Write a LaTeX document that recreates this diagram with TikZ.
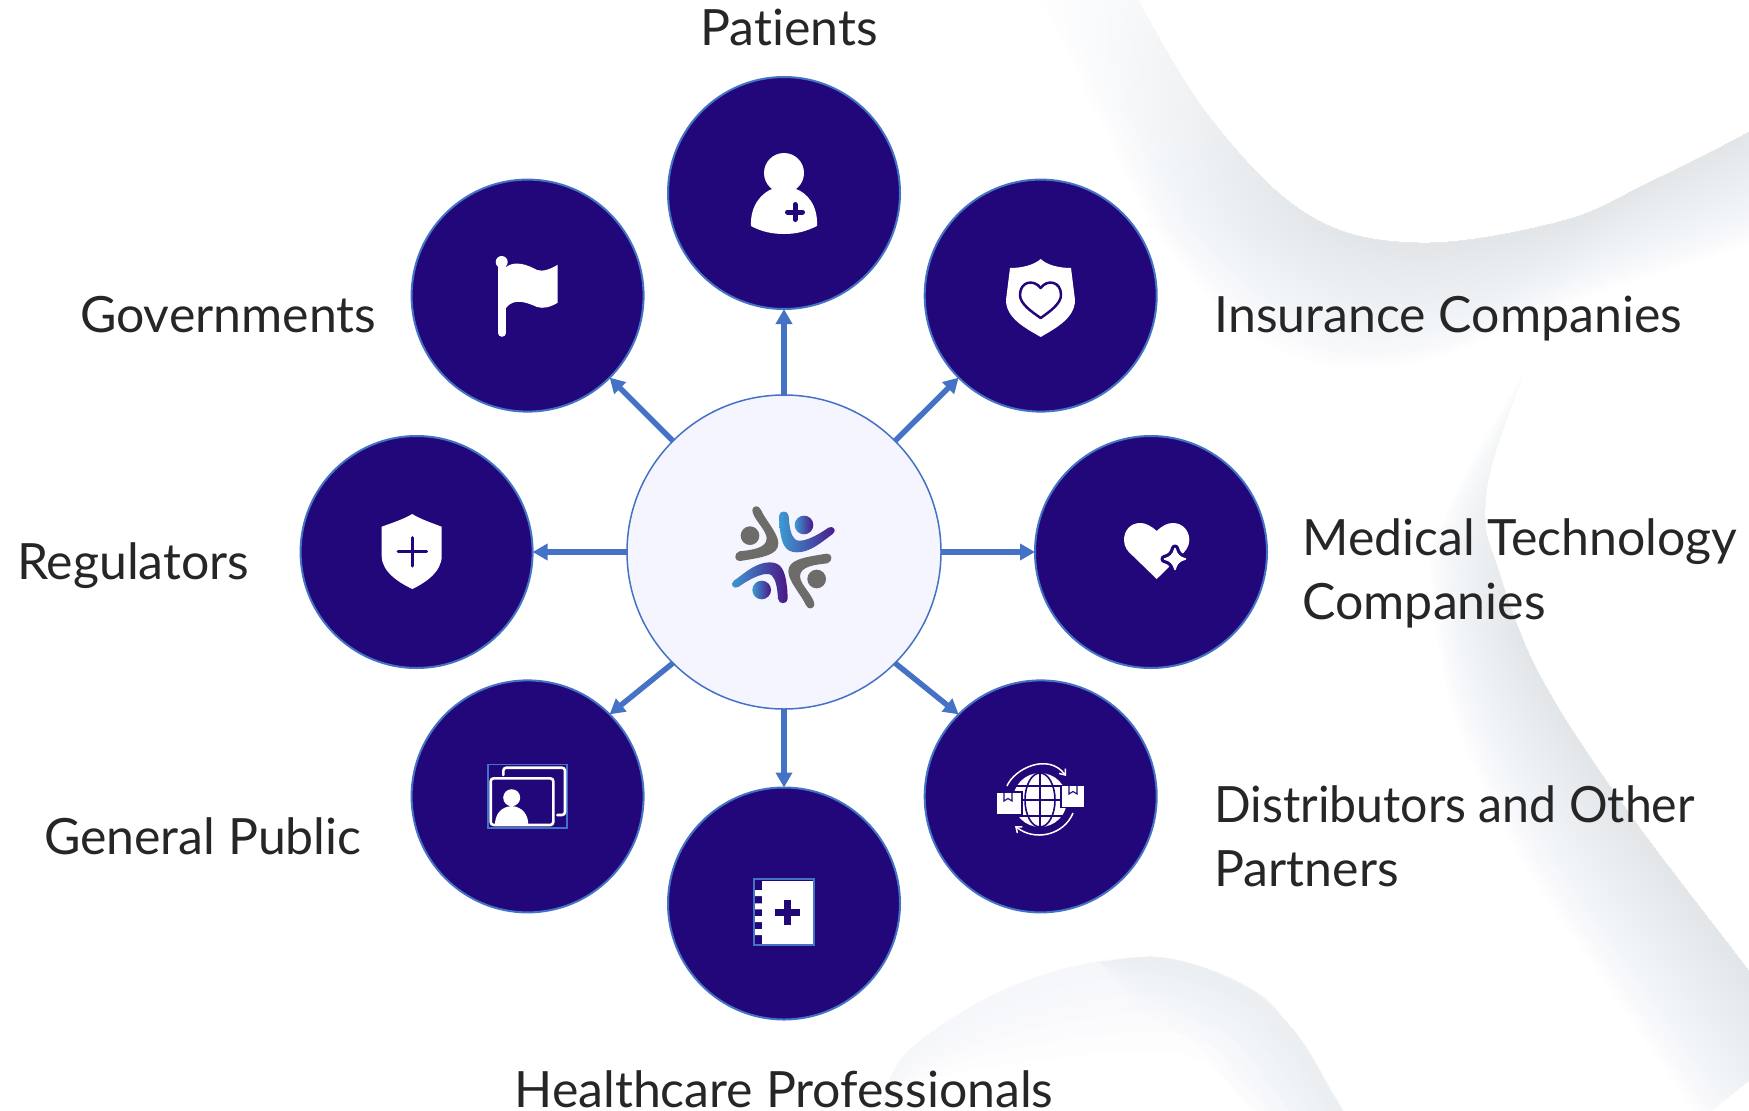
\documentclass[tikz,border=0pt]{standalone}
\usepackage{fontspec}
\setmainfont{Lato}[Ligatures=CommonOff]
\newfontfamily\narrowlato{Lato}[Ligatures=CommonOff,FakeStretch=0.965]
\usetikzlibrary{arrows.meta,calc,fadings}
\definecolor{navy}{HTML}{22077A}
\definecolor{edgeblue}{HTML}{4472C4}
\definecolor{hub}{HTML}{F4F5FE}
\definecolor{ink}{HTML}{262626}
\definecolor{logogray}{HTML}{6E6C68}
\definecolor{logoblue}{HTML}{3D9BD3}
\definecolor{logopurple}{HTML}{4B1686}
\definecolor{swoosh}{HTML}{C8D0D6}
\tikzset{
  spoke/.style={circle,draw=edgeblue,line width=2pt,fill=navy,minimum size=232pt,inner sep=0pt,outer sep=0pt},
  hubnode/.style={circle,draw=edgeblue,line width=1.5pt,fill=hub,minimum size=314pt,inner sep=0pt,outer sep=0pt},
  link/.style={draw=edgeblue,line width=5.5pt,-{Triangle[length=15pt,width=16pt]}},
  lab/.style={text=ink,inner sep=0pt,outer sep=0pt,align=left,font=\fontsize{50}{64}\selectfont},
  ico/.style={fill=white,draw=none},
  cut/.style={draw=navy,line cap=round,line join=round}
}
\newcommand{\bpt}[5]{\coordinate (#1) at (#2,#3);\coordinate (o#1) at (#4,#5);}
\newcommand{\softband}[3]{%
  \foreach \k in {1,...,#2}{%
    \pgfmathsetmacro\t{\k/#2}%
    \fill[swoosh,opacity=#3] plot[smooth,tension=0.6] coordinates {(#11) (#12) (#13) (#14) (#15) (#16) (#17) (#18)}
      -- plot[smooth,tension=0.6] coordinates {($(#18)!\t!(o#18)$) ($(#17)!\t!(o#17)$) ($(#16)!\t!(o#16)$) ($(#15)!\t!(o#15)$) ($(#14)!\t!(o#14)$) ($(#13)!\t!(o#13)$) ($(#12)!\t!(o#12)$) ($(#11)!\t!(o#11)$)} -- cycle;
  }}
\begin{document}
\begin{tikzpicture}[x=1pt,y=-1pt]
\useasboundingbox (0,0) rectangle (1749,1111);
\fill[white] (0,0) rectangle (1749,1111);
\begin{scope}
\clip (0,0) rectangle (1749,1111);
% top band
\bpt{A1}{1128}{-20}{1030}{-20}
\bpt{A2}{1205}{111}{1103}{125}
\bpt{A3}{1307}{214}{1169}{250}
\bpt{A4}{1419}{243}{1281}{350}
\bpt{A5}{1562}{221}{1409}{364}
\bpt{A6}{1650}{182}{1587}{296}
\bpt{A7}{1749}{132}{1749}{243}
\bpt{A8}{1800}{100}{1800}{210}
\softband{A}{22}{0.022}
% fade the upper part of the top band
\fill[white,opacity=0.8,path fading=south] (950,-10) rectangle (1420,240);
% right band
\bpt{C1}{1523}{375}{1523}{375}
\bpt{C2}{1492}{464}{1470}{464}
\bpt{C3}{1485}{518}{1445}{518}
\bpt{C4}{1495}{560}{1430}{560}
\bpt{C5}{1538}{672}{1450}{700}
\bpt{C6}{1624}{806}{1510}{840}
\bpt{C7}{1749}{971}{1610}{990}
\bpt{C8}{1800}{1040}{1700}{1120}
\softband{C}{22}{0.022}
% fade the upper part of the right band
\fill[white,opacity=0.85,path fading=south] (1400,372) rectangle (1560,640);
% bottom lobe, full length
\bpt{E1}{880}{1120}{880}{1120}
\bpt{E2}{907}{1052}{930}{1080}
\bpt{E3}{1022}{982}{1040}{1060}
\bpt{E4}{1154}{957}{1154}{1050}
\bpt{E5}{1251}{989}{1200}{1060}
\bpt{E6}{1285}{1020}{1220}{1075}
\bpt{E7}{1309}{1052}{1235}{1090}
\bpt{E8}{1349}{1120}{1260}{1120}
\softband{E}{5}{0.022}
% bottom lobe, stronger right part
\bpt{F1}{1100}{963}{1100}{963}
\bpt{F2}{1154}{957}{1135}{1005}
\bpt{F3}{1205}{968}{1165}{1025}
\bpt{F4}{1251}{989}{1190}{1040}
\bpt{F5}{1285}{1020}{1215}{1065}
\bpt{F6}{1309}{1052}{1230}{1085}
\bpt{F7}{1330}{1090}{1250}{1105}
\bpt{F8}{1349}{1120}{1265}{1120}
\softband{F}{8}{0.022}
\end{scope}

% nodes
\node[hubnode] (hubc) at (784,552) {};
\node[spoke] (pat) at (784,193) {};
\node[spoke] (ins) at (1040.7,295.6) {};
\node[spoke] (med) at (1151,552) {};
\node[spoke] (dis) at (1040.7,796.4) {};
\node[spoke] (hcp) at (784,903.5) {};
\node[spoke] (pub) at (527.6,796.4) {};
\node[spoke] (reg) at (416.6,552) {};
\node[spoke] (gov) at (527.6,295.6) {};

% connectors
\draw[link] (hubc.90) -- (pat.270);
\draw[link] (hubc.45) -- (ins.225);
\draw[link] (hubc.0) -- (med.180);
\draw[link] (hubc.315) -- (dis.135);
\draw[link] (hubc.270) -- (hcp.90);
\draw[link] (hubc.225) -- (pub.45);
\draw[link] (hubc.180) -- (reg.0);
\draw[link] (hubc.135) -- (gov.315);

% patient icon
\fill[ico] (784,173) circle[radius=20];
\fill[ico] (751,226) .. controls (750,205) and (762,193) .. (772,189) -- (796,189) .. controls (807,193) and (818,205) .. (817,226) .. controls (805,232) and (795,234) .. (784,234) .. controls (773,234) and (762,232) .. (751,226) -- cycle;
\draw[cut,line width=5pt] (787.5,212) -- (802.5,212) (795,204.5) -- (795,219.5);

% flag icon
\fill[ico] (501.7,262) circle[radius=6];
\draw[white,line width=7.6pt,line cap=round] (502.2,262) -- (502.2,333);
\fill[ico] (506,267) .. controls (515,260) and (528,265) .. (537,270) .. controls (543,272) and (551,269) .. (557.7,264.7) -- (557.7,302.7) .. controls (551,307) and (543,309) .. (537,307) .. controls (528,303) and (514,297) .. (506,308) -- cycle;

% insurance icon
\fill[ico] (1040.7,259) .. controls (1034,265) and (1022,268) .. (1010,268) -- (1006,300) .. controls (1006,318) and (1025,328) .. (1040.7,337) .. controls (1056,328) and (1075,318) .. (1075,300) -- (1071,268) .. controls (1059,268) and (1047,265) .. (1040.7,259) -- cycle;
\draw[cut,line width=2.5pt] (1040.7,288) .. controls (1034,279) and (1020,281) .. (1020,295) .. controls (1020,304) and (1032,312) .. (1040.7,318) .. controls (1049,312) and (1061,304) .. (1061,295) .. controls (1061,281) and (1047,279) .. (1040.7,288) -- cycle;

% medical icon
\fill[ico] (1156.7,531) .. controls (1150,525) and (1145,523) .. (1140,523) .. controls (1130,523) and (1124,531) .. (1124,540) .. controls (1124,547) and (1128,552) .. (1133,556) -- (1156.7,579) -- (1180,556) .. controls (1185,552) and (1189.3,547) .. (1189.3,540) .. controls (1189.3,531) and (1183,523) .. (1173,523) .. controls (1168,523) and (1163,525) .. (1156.7,531) -- cycle;
\def\sparkle{(1175,548.5) .. controls (1176.5,554.5) and (1179.5,557.5) .. (1185.5,559) .. controls (1179.5,560.5) and (1176.5,563.5) .. (1175,569.5) .. controls (1173.5,563.5) and (1170.5,560.5) .. (1164.5,559) .. controls (1170.5,557.5) and (1173.5,554.5) .. (1175,548.5) -- cycle}
\draw[navy,fill=navy,line width=8pt,line join=round] \sparkle;
\draw[white,fill=white,line width=1.5pt,line join=round] \sparkle;

% distributors icon
\fill[ico] (1040,800) circle[radius=27];
\draw[navy,line width=1.6pt] (1040,800) ellipse[x radius=15,y radius=27];
\draw[navy,line width=1.6pt] (1040,773) -- (1040,827) (1016,785.7) -- (1064,785.7) (1012,800) -- (1068,800) (1016,815.7) -- (1064,815.7);
\filldraw[fill=white,draw=navy,line width=1.6pt] (996,792) rectangle (1022,814.5);
\filldraw[fill=white,draw=navy,line width=1.6pt] (1061,785.5) rectangle (1085,807.5);
\draw[navy,line width=1.1pt] (1004,792) -- (1004,801) -- (1008,798.5) -- (1012,801) -- (1012,792);
\draw[navy,line width=1.1pt] (1069,785.5) -- (1069,794) -- (1073,791.5) -- (1077,794) -- (1077,785.5);
\draw[white,line width=1.5pt,-{Straight Barb[length=5pt,width=8pt]}] (1007,786) .. controls (1014,769) and (1048,752) .. (1066,776);
\draw[white,line width=1.5pt,-{Straight Barb[length=5pt,width=8pt]}] (1073,813) .. controls (1064,835) and (1035,842) .. (1015,826);

% notebook icon
\draw[edgeblue,line width=1.8pt] (754,878.7) rectangle (814,945.3);
\fill[ico] (761.7,880.7) rectangle (812.7,944);
\fill[ico] (755,890) rectangle (762,896) (755,903.3) rectangle (762,909.3) (755,916) rectangle (762,922) (755,929) rectangle (762,935);
\draw[navy,line width=7pt] (775,912.3) -- (800.4,912.3) (787.7,899.6) -- (787.7,925);

% public icon
\draw[edgeblue,line width=1.6pt] (488,764.3) rectangle (566.7,827.7);
\draw[white,line width=2.6pt,line cap=round,rounded corners=3pt] (503.3,775) -- (503.3,767.7) -- (565,767.7) -- (565,815) -- (557.3,815);
\draw[white,line width=2.6pt,rounded corners=3pt] (490.7,778.3) rectangle (553.3,825);
\fill[ico] (511.7,797.7) circle[radius=8.5];
\fill[ico] (495,825) .. controls (495,815) and (500,807) .. (511.7,806) .. controls (523,807) and (528.3,815) .. (528.3,825) -- cycle;

% regulators icon
\fill[ico] (412.3,514) .. controls (420,519) and (432,523) .. (441.7,526.7) -- (441.7,556) .. controls (441.7,572) and (425,583) .. (412.3,589) .. controls (399.6,583) and (381.7,572) .. (381.7,556) -- (381.7,526.7) .. controls (392,523) and (404,519) .. (412.3,514) -- cycle;
\draw[cut,line width=3pt] (398,551.7) -- (426.6,551.7) (412.3,537.5) -- (412.3,566);

% logo
\begin{scope}[shift={(700,480)},scale=0.33333]
\def\grayfig{(157,90) .. controls (157,78) and (176,72) .. (183,90) .. controls (195,118) and (235,160) .. (235,190) .. controls (235,225) and (190,232) .. (120,243) .. controls (103,245) and (100,220) .. (118,214) .. controls (155,210) and (200,205) .. (200,175) .. controls (200,150) and (157,115) .. (157,90) -- cycle}
\fill[logogray] \grayfig;
\fill[logogray] (150,167) circle[radius=28];
\begin{scope}[rotate around={180:(250,232)}]
\fill[logogray] \grayfig;
\fill[logogray] (150,167) circle[radius=28];
\end{scope}
\shade[left color=logoblue,middle color=logopurple!70!logoblue,right color=logopurple] (237,108) .. controls (237,90) and (265,90) .. (266,108) .. controls (268,140) and (272,165) .. (285,178) .. controls (300,190) and (340,175) .. (385,143) .. controls (400,135) and (412,152) .. (398,162) .. controls (360,190) and (330,217) .. (290,217) .. controls (255,217) and (245,190) .. (240,150) .. controls (238,135) .. (237,108) -- cycle;
\shade[left color=logoblue,middle color=logopurple,right color=logopurple] (263,356) .. controls (263,374) and (235,374) .. (234,356) .. controls (232,324) and (228,299) .. (215,286) .. controls (200,274) and (160,289) .. (115,321) .. controls (100,329) and (88,312) .. (102,302) .. controls (140,274) and (170,247) .. (210,247) .. controls (245,247) and (255,274) .. (260,314) .. controls (262,329) .. (263,356) -- cycle;
\shade[left color=logoblue,right color=logopurple] (312,135) circle[radius=28];
\shade[left color=logoblue,right color=logopurple] (185,330) circle[radius=28];
\end{scope}

% labels
\node[lab,anchor=base] (tpat) at (789,45) {Patients};
\node[lab,anchor=base west] (tgov) at (80,332) {Governments};
\node[lab,anchor=base west] (tins) at (1214.5,332) {Insurance Companies};
\node[lab,anchor=base west] (treg) at (17,579) {Regulators};
\node[lab,anchor=base west] (tmed) at (1302.5,619) {Medical Technology\\Companies};
\node[lab,anchor=base west] (tdis) at (1214.5,886) {\narrowlato Distributors and Other\\Partners};
\node[lab,anchor=base west] (tpub) at (44,854) {General Public};
\node[lab,anchor=base] (thcp) at (784,1107) {Healthcare Professionals};
\end{tikzpicture}
\end{document}
